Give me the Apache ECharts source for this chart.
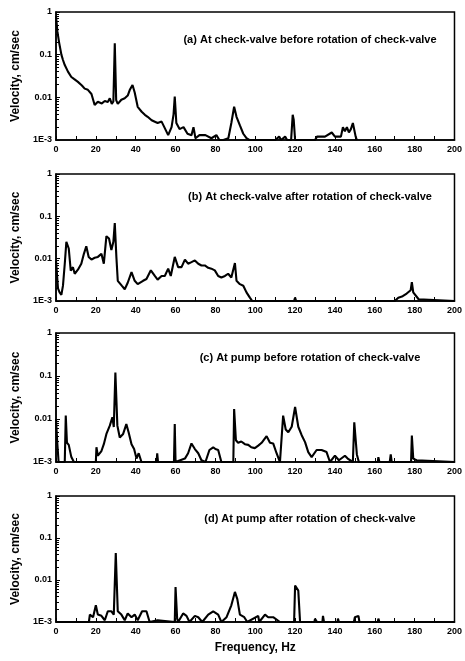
<!DOCTYPE html>
<html>
<head>
<meta charset="utf-8">
<script src="https://cdn.jsdelivr.net/npm/echarts@6/dist/echarts.min.js"></script>
<style>
  html, body { margin: 0; padding: 0; background: #fff; }
  #main { width: 465px; height: 661px; }
</style>
</head>
<body>
<div id="main"></div>
<script>
var yTicks = ['1', '0.1', '0.01', '1E-3'];
var panelTitles = [
  '(a) At check-valve before rotation of check-valve',
  '(b) At check-valve after rotation of check-valve',
  '(c) At pump before rotation of check-valve',
  '(d) At pump after rotation of check-valve'
];

// (a) check-valve, before
var freqA = [0, 0.7, 1.5, 2.7, 3.5, 4.4, 6, 7.7, 9, 11, 13, 14.4, 16, 17.8, 19.4, 21, 23, 24.5, 26, 27, 28, 28.8, 29.5, 30.2, 31, 32.8, 34.5, 36, 37, 38.4, 39.5, 41, 43, 44.6, 46, 48, 51, 53, 54.6, 56.3, 58, 59, 59.6, 60.4, 62, 64, 66, 68, 69, 70, 72, 75, 78, 80.5, 82, 84, 86.5, 88, 89.4, 90.6, 92.3, 94, 95.6, 97, 100, 110, 112, 113, 115, 116, 118, 118.8, 119.3, 120, 125, 130, 131, 135, 138.4, 140, 143, 144, 145, 146, 147, 148, 149, 150.4, 151];
var velA = [0.8, 0.35, 0.2, 0.1, 0.075, 0.057, 0.04, 0.03, 0.027, 0.023, 0.019, 0.016, 0.015, 0.012, 0.0066, 0.0079, 0.0072, 0.0082, 0.0078, 0.0095, 0.007, 0.008, 0.186, 0.0086, 0.007, 0.0088, 0.0095, 0.011, 0.0148, 0.0195, 0.013, 0.006, 0.0046, 0.0039, 0.0035, 0.0029, 0.0025, 0.0027, 0.0019, 0.0013, 0.002, 0.004, 0.0104, 0.0025, 0.0018, 0.002, 0.0014, 0.0013, 0.002, 0.0011, 0.0013, 0.0013, 0.0011, 0.0013, 0.001, 0.001, 0.0011, 0.0025, 0.006, 0.0035, 0.0022, 0.0014, 0.0011, 0.001, 0.001, 0.001, 0.0012, 0.001, 0.0012, 0.001, 0.001, 0.0039, 0.003, 0.001, 0.001, 0.001, 0.0012, 0.0012, 0.0015, 0.0012, 0.0012, 0.002, 0.0016, 0.002, 0.0015, 0.0018, 0.0025, 0.0012, 0.001];

// (b) check-valve, after
var freqB = [0, 0.5, 1, 1.8, 2.7, 3.5, 4.4, 5.2, 6.4, 7.4, 8.5, 9.4, 11, 12.7, 14, 15.2, 16.4, 17.8, 19.4, 21, 22.8, 24, 25.3, 26.6, 27.8, 28.8, 29.5, 30.3, 31, 33, 34.5, 36, 37.9, 39.5, 41, 43.7, 45.4, 47.6, 49.6, 51, 53, 54.6, 56.3, 57.6, 59.6, 61.3, 63, 64.7, 66.3, 68, 69.7, 71.4, 73, 74.7, 76.4, 78, 79.7, 81.4, 83, 84.8, 86.4, 88, 89.8, 90.6, 92.3, 94, 95.6, 97.3, 98.5, 110, 119.5, 120, 120.5, 150, 170, 171.8, 174, 176, 178, 178.6, 179.3, 180, 182, 183, 200];
var velB = [0.009, 0.01, 0.002, 0.0016, 0.0014, 0.0023, 0.0076, 0.025, 0.0174, 0.0052, 0.0063, 0.0044, 0.0055, 0.0076, 0.013, 0.0197, 0.011, 0.0095, 0.0105, 0.011, 0.013, 0.0076, 0.034, 0.03, 0.016, 0.025, 0.069, 0.011, 0.003, 0.0023, 0.0019, 0.0027, 0.0048, 0.003, 0.0025, 0.003, 0.0033, 0.0053, 0.0039, 0.0032, 0.0039, 0.0039, 0.0058, 0.0039, 0.011, 0.0063, 0.0063, 0.0095, 0.0076, 0.0083, 0.0091, 0.0076, 0.0069, 0.0069, 0.0061, 0.0058, 0.0053, 0.0039, 0.0036, 0.0039, 0.0044, 0.0036, 0.0079, 0.003, 0.0025, 0.0023, 0.0016, 0.0012, 0.001, 0.001, 0.001, 0.0012, 0.001, 0.001, 0.001, 0.0012, 0.0013, 0.0015, 0.0018, 0.0028, 0.0016, 0.0015, 0.0011, 0.001, 0.001];

// (c) pump, before
var freqC = [0, 0.6, 1.3, 4.4, 4.9, 5.5, 6.4, 7.7, 9, 20, 20.3, 21, 22.8, 24, 25.3, 27, 28.3, 29, 29.8, 30.8, 32, 33.7, 35.3, 36.5, 37.9, 39.2, 40.4, 41.5, 42.9, 50.5, 50.8, 51.2, 59.2, 59.6, 60, 64.7, 66.3, 68, 69.7, 71.4, 73, 75, 77, 78.9, 80, 81.4, 83, 89, 89.4, 90.3, 91.4, 93, 94.8, 96.5, 98, 99.8, 101.5, 103.2, 105.7, 107.4, 109, 110.7, 112.4, 114, 115.3, 116.6, 118.3, 120, 121.6, 123.3, 125, 126.6, 128.3, 130.8, 133.3, 135.8, 137.5, 140, 142, 145, 146.4, 149, 149.7, 151, 152, 161.5, 161.8, 162.3, 167.5, 168, 168.5, 178.2, 178.6, 179.3, 181, 182, 200];
var velC = [0.01, 0.003, 0.001, 0.001, 0.012, 0.0028, 0.0025, 0.0013, 0.001, 0.001, 0.0022, 0.0014, 0.0018, 0.0026, 0.0045, 0.007, 0.011, 0.0065, 0.12, 0.007, 0.0037, 0.0045, 0.0076, 0.0048, 0.0026, 0.002, 0.0012, 0.0016, 0.001, 0.001, 0.0016, 0.001, 0.001, 0.0076, 0.001, 0.0012, 0.0016, 0.0027, 0.002, 0.0016, 0.0011, 0.001, 0.0019, 0.0022, 0.002, 0.0019, 0.001, 0.001, 0.017, 0.0032, 0.0028, 0.003, 0.0026, 0.0025, 0.0022, 0.0021, 0.0024, 0.0028, 0.004, 0.0028, 0.0027, 0.0016, 0.001, 0.012, 0.0057, 0.0049, 0.0066, 0.019, 0.0066, 0.0042, 0.0029, 0.0017, 0.0013, 0.0019, 0.0019, 0.0017, 0.001, 0.0014, 0.0011, 0.0014, 0.0012, 0.001, 0.0084, 0.0015, 0.001, 0.001, 0.0013, 0.001, 0.001, 0.0015, 0.001, 0.001, 0.0041, 0.0012, 0.0011, 0.001, 0.001];

// (d) pump, after
var freqD = [0, 10, 10.2, 10.6, 16.5, 17, 18.6, 20, 21, 22.8, 24.5, 26, 27.8, 29, 30, 31, 32.8, 34.5, 36, 37.9, 39.5, 41, 43.2, 45.4, 47, 51, 52, 59.6, 60, 60.8, 61.3, 63.8, 65.5, 67, 69.7, 71.4, 73.4, 76.4, 78.9, 81.4, 83, 85.6, 88, 89.8, 91, 92.3, 94.5, 96, 101.5, 102, 104.9, 106.5, 109, 112.4, 119.5, 120, 121.6, 122.5, 129.7, 130, 131, 133.7, 134, 134.5, 141.3, 141.5, 142, 149.5, 150, 151.8, 152.3, 161.5, 161.8, 162.3, 200];
var velD = [0.001, 0.001, 0.0011, 0.001, 0.001, 0.0015, 0.0013, 0.0025, 0.0015, 0.0014, 0.0011, 0.0018, 0.0018, 0.0015, 0.044, 0.0018, 0.0015, 0.0011, 0.0016, 0.0013, 0.0015, 0.0011, 0.0018, 0.0018, 0.001, 0.0011, 0.001, 0.001, 0.0068, 0.0012, 0.001, 0.0016, 0.0014, 0.001, 0.0014, 0.0013, 0.001, 0.0015, 0.0018, 0.0015, 0.001, 0.0013, 0.0025, 0.0052, 0.0035, 0.0015, 0.0013, 0.001, 0.0014, 0.001, 0.0015, 0.0013, 0.0013, 0.001, 0.001, 0.0074, 0.0056, 0.001, 0.001, 0.0012, 0.001, 0.001, 0.0014, 0.001, 0.001, 0.0012, 0.001, 0.001, 0.0013, 0.0014, 0.001, 0.001, 0.0012, 0.001, 0.001];

(function() {
  var FONT = '"Liberation Sans", Arial, sans-serif';
  var panels = [
    { freq: freqA, vel: velA, top: 12, height: 128, titleTop: 29 },
    { freq: freqB, vel: velB, top: 174, height: 127, titleTop: 186 },
    { freq: freqC, vel: velC, top: 333, height: 129, titleTop: 347 },
    { freq: freqD, vel: velD, top: 496, height: 126, titleTop: 508 }
  ];

  var yLabel = function(v) {
    var idx = Math.round(-Math.log(v) / Math.LN10);
    return yTicks[idx] || '';
  };

  var grids = [], xAxes = [], yAxes = [], series = [], titles = [];

  panels.forEach(function(p, i) {
    grids.push({
      left: 56, width: 400, top: p.top, height: p.height,
      show: true, borderColor: '#000', borderWidth: 1.5
    });
    xAxes.push({
      type: 'value', gridIndex: i, min: 0, max: 200, interval: 20,
      axisLine: { lineStyle: { color: '#000', width: 1.5 } },
      axisTick: { inside: true, length: 4, lineStyle: { color: '#000' } },
      minorTick: { show: true, splitNumber: 2, length: 4, lineStyle: { color: '#000' } },
      splitLine: { show: false },
      axisLabel: { color: '#000', fontSize: 9, fontWeight: 'bold', fontFamily: FONT, margin: 5 },
      name: i === 3 ? 'Frequency, Hz' : '',
      nameLocation: 'middle', nameGap: 20,
      nameTextStyle: { color: '#000', fontSize: 12, fontWeight: 'bold', fontFamily: FONT }
    });
    yAxes.push({
      type: 'log', logBase: 10, gridIndex: i, min: 0.001, max: 1,
      axisLine: { show: true, lineStyle: { color: '#000', width: 1.5 } },
      axisTick: { show: true, inside: true, length: 4, lineStyle: { color: '#000' } },
      minorTick: { show: true, splitNumber: 9, length: 3, lineStyle: { color: '#000' } },
      splitLine: { show: false },
      axisLabel: { color: '#000', fontSize: 9, fontWeight: 'bold', fontFamily: FONT, margin: 4, formatter: yLabel },
      name: 'Velocity, cm/sec', nameLocation: 'middle', nameGap: 31,
      nameTextStyle: { color: '#000', fontSize: 12, fontWeight: 'bold', fontFamily: FONT }
    });
    series.push({
      type: 'line', xAxisIndex: i, yAxisIndex: i,
      data: p.freq.map(function(f, k) { return [f, p.vel[k]]; }),
      showSymbol: false, symbol: 'none',
      lineStyle: { color: '#000', width: 2.1 },
      animation: false
    });
    titles.push({
      text: panelTitles[i], left: 305, top: p.titleTop, textAlign: 'center',
      textStyle: { color: '#000', fontSize: 11, fontWeight: 'bold', fontFamily: FONT }
    });
  });

  var myChart = echarts.init(document.getElementById('main'));
  myChart.setOption({
    backgroundColor: '#fff',
    animation: false,
    title: titles,
    grid: grids,
    xAxis: xAxes,
    yAxis: yAxes,
    series: series
  });
})();
</script>
</body>
</html>
